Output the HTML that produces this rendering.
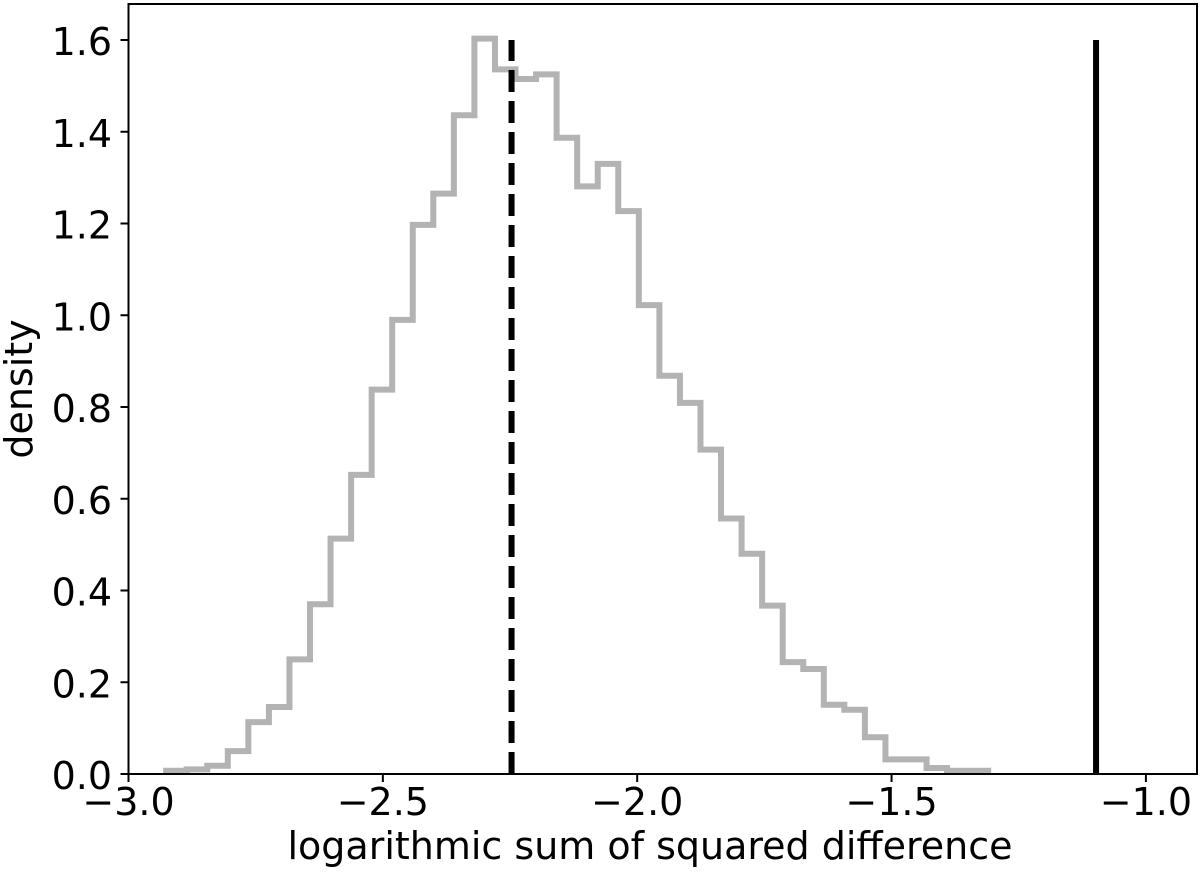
<!DOCTYPE html>
<html><head><meta charset="utf-8"><style>
html,body{margin:0;padding:0;background:#fff;}
svg{display:block;font-family:"DejaVu Sans","Liberation Sans",sans-serif;}
</style></head><body>
<svg id="chart" width="1200" height="880" viewBox="0 0 1200 880" xmlns="http://www.w3.org/2000/svg">
<g id="plot"></g>
<g id="axes"></g>
</svg>
<script>
const binStart = -2.926;
const binWidth = 0.0404;
const densities = [0.007,0.01,0.018,0.05,0.113,0.146,0.25,0.37,0.513,0.652,0.838,0.99,1.197,1.265,1.436,1.603,1.536,1.515,1.525,1.387,1.281,1.33,1.227,1.022,0.868,0.809,0.707,0.557,0.48,0.367,0.244,0.229,0.151,0.14,0.08,0.032,0.032,0.013,0.007,0.007];
const dashedLineX = -2.247;
const solidLineX = -1.098;
const refLineTop = 1.6;
const xTicks = [-3.0,-2.5,-2.0,-1.5,-1.0];
const xTickLabels = ["\u22123.0","\u22122.5","\u22122.0","\u22121.5","\u22121.0"];
const yTicks = [0,0.2,0.4,0.6,0.8,1.0,1.2,1.4,1.6];
const yTickLabels = ["0.0","0.2","0.4","0.6","0.8","1.0","1.2","1.4","1.6"];

const L=128.5, R=1197, T=4, B=774;
function xs(v){return L+(v+3)*508.7;}
function ys(v){return B-v*458.75;}
const NS="http://www.w3.org/2000/svg";
function mk(tag,attrs,parent){const e=document.createElementNS(NS,tag);for(const k in attrs)e.setAttribute(k,attrs[k]);parent.appendChild(e);return e;}
const plot=document.getElementById('plot');
const axes=document.getElementById('axes');

let d='';
densities.forEach((v,i)=>{
  const x0=xs(binStart+i*binWidth), x1=xs(binStart+(i+1)*binWidth), y=ys(v);
  if(i===0) d+='M'+x0+','+ys(0)+' L'+x0+','+y; else d+=' L'+x0+','+y;
  d+=' L'+x1+','+y;
  if(i===densities.length-1) d+=' L'+x1+','+ys(0);
});
const hist=mk('path',{d:d,fill:'none',stroke:'#b3b3b3','stroke-width':6,'stroke-linejoin':'miter'},plot);



const dl=mk('line',{x1:xs(dashedLineX),x2:xs(dashedLineX),y1:ys(0),y2:ys(refLineTop),stroke:'#000','stroke-width':6,'stroke-dasharray':'22,9'},plot);


const sl=mk('line',{x1:xs(solidLineX),x2:xs(solidLineX),y1:ys(0),y2:ys(refLineTop),stroke:'#000','stroke-width':6},plot);



const frame=mk('rect',{x:L,y:T,width:R-L,height:B-T,fill:'none',stroke:'#000','stroke-width':2},axes);



xTicks.forEach((v,i)=>{
  const t=mk('line',{x1:xs(v),x2:xs(v),y1:B,y2:B+8,stroke:'#000','stroke-width':2},axes);
  
  
  const tx=mk('text',{x:xs(v),y:815,'font-size':38,'text-anchor':'middle',fill:'#000'},axes);
  tx.textContent=xTickLabels[i];
  
  
});
yTicks.forEach((v,i)=>{
  const t=mk('line',{x1:L-8,x2:L,y1:ys(v),y2:ys(v),stroke:'#000','stroke-width':2},axes);
  
  
  const tx=mk('text',{x:112,y:ys(v)+15,'font-size':38,'text-anchor':'end',fill:'#000'},axes);
  tx.textContent=yTickLabels[i];
  
  
});
const xt=mk('text',{x:650,y:859,'font-size':38,'text-anchor':'middle',fill:'#000'},axes);
xt.textContent='logarithmic sum of squared difference';


const yt=mk('text',{x:0,y:0,'font-size':38,'text-anchor':'middle',fill:'#000',transform:'translate(32,'+((T+B)/2)+') rotate(-90)'},axes);
yt.textContent='density';


</script>
</body></html>
